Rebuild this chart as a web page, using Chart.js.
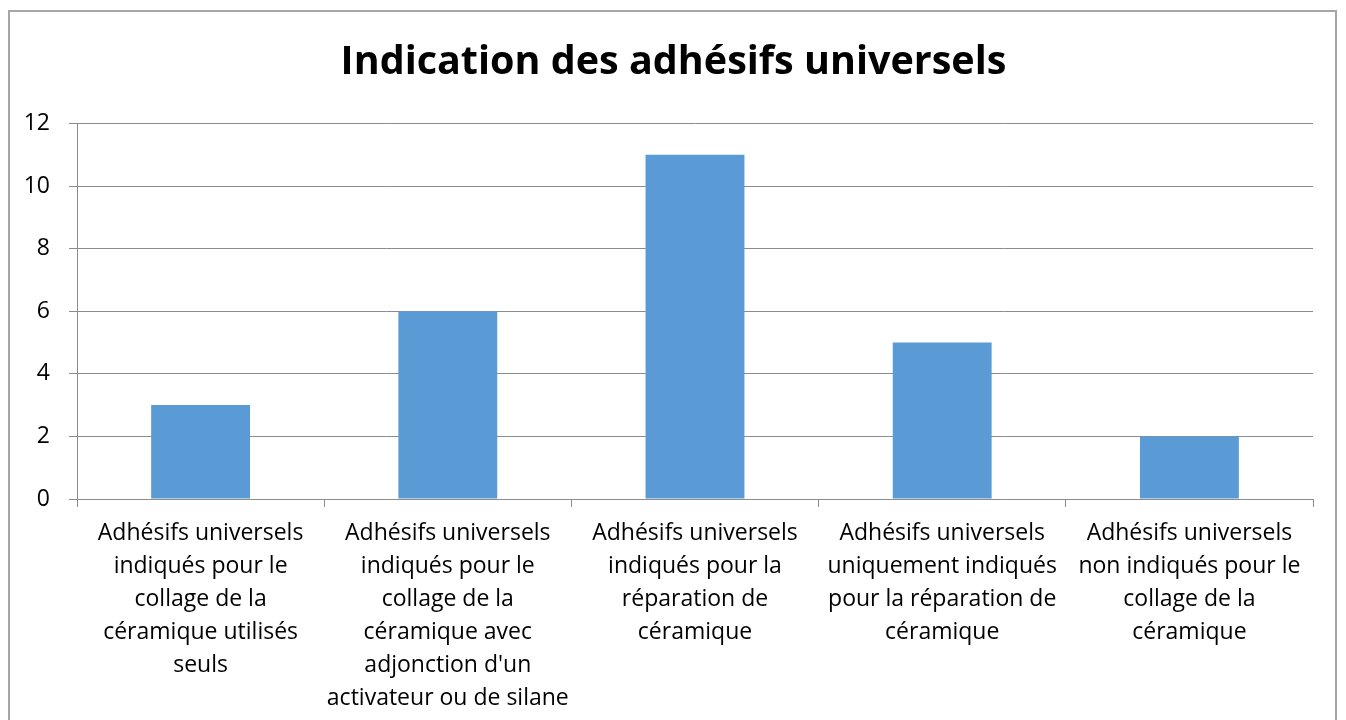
<!DOCTYPE html>
<html>
<head>
<meta charset="utf-8">
<script src="https://cdn.jsdelivr.net/npm/chart.js@4"></script>
<style>
  html, body { margin: 0; padding: 0; background: #fff; overflow: hidden; }
  #frame { position: absolute; left: 8px; top: 10px; width: 1329px; height: 760px;
           border: 2px solid #a6a6a6; box-sizing: border-box; }
  #wrap { position: absolute; left: 0; top: 0; width: 1346px; height: 720px; }
</style>
</head>
<body>
<div id="frame"></div>
<div id="wrap"><canvas id="chart" width="1346" height="720"></canvas></div>
<script>
const TITLE = "Indication des adhésifs universels";

const categories = [
  ["Adhésifs universels", "indiqués pour le", "collage de la", "céramique utilisés", "seuls"],
  ["Adhésifs universels", "indiqués pour le", "collage de la", "céramique avec", "adjonction d'un", "activateur ou de silane"],
  ["Adhésifs universels", "indiqués pour la", "réparation de", "céramique"],
  ["Adhésifs universels", "uniquement indiqués", "pour la réparation de", "céramique"],
  ["Adhésifs universels", "non indiqués pour le", "collage de la", "céramique"]
];
const counts = [3, 6, 11, 5, 2];

const yMin = 0, yMax = 12, yStep = 2;

const FONT = "'Open Sans', sans-serif";
const GRID = "#8c8c8c";

// centre the title on the whole frame instead of the padded layout box
const centerTitle = {
  id: "centerTitle",
  afterLayout(chart) {
    const t = chart.titleBlock;
    if (!t) return;
    t.left = 8;
    t.right = 1339;
    t.width = t.right - t.left;
  },
};

new Chart(document.getElementById("chart").getContext("2d"), {
  type: "bar",
  data: {
    labels: categories,
    datasets: [{
      data: counts,
      backgroundColor: "#5b9bd5",
      borderWidth: 0,
      categoryPercentage: 1,
      barPercentage: 0.4,
    }],
  },
  plugins: [centerTitle],
  options: {
    responsive: false,
    animation: false,
    layout: { padding: { left: 0, right: 33, top: 10, bottom: 0 } },
    plugins: {
      legend: { display: false },
      tooltip: { enabled: false },
      title: {
        display: true,
        text: TITLE,
        color: "#000",
        font: { family: FONT, size: 39.5, weight: "bold", lineHeight: 1.2 },
        padding: { top: 29, bottom: 37 },
      },
    },
    scales: {
      x: {
        offset: true,
        grid: { display: true, drawOnChartArea: false, color: GRID, tickLength: 8, offset: true },
        border: { display: true, color: GRID, width: 1 },
        ticks: {
          color: "#000", maxRotation: 0, autoSkip: false, padding: 10,
          font: { family: FONT, size: 23, lineHeight: "33px" },
        },
        afterFit: s => { s.height = 221; },
      },
      y: {
        min: yMin, max: yMax,
        grid: { color: GRID, tickLength: 8 },
        border: { display: true, color: GRID, width: 1 },
        ticks: {
          stepSize: yStep, color: "#000", padding: 19,
          font: { family: FONT, size: 23 },
        },
        afterFit: s => { s.width = 77; },
      },
    },
  },
});
</script>
</body>
</html>
